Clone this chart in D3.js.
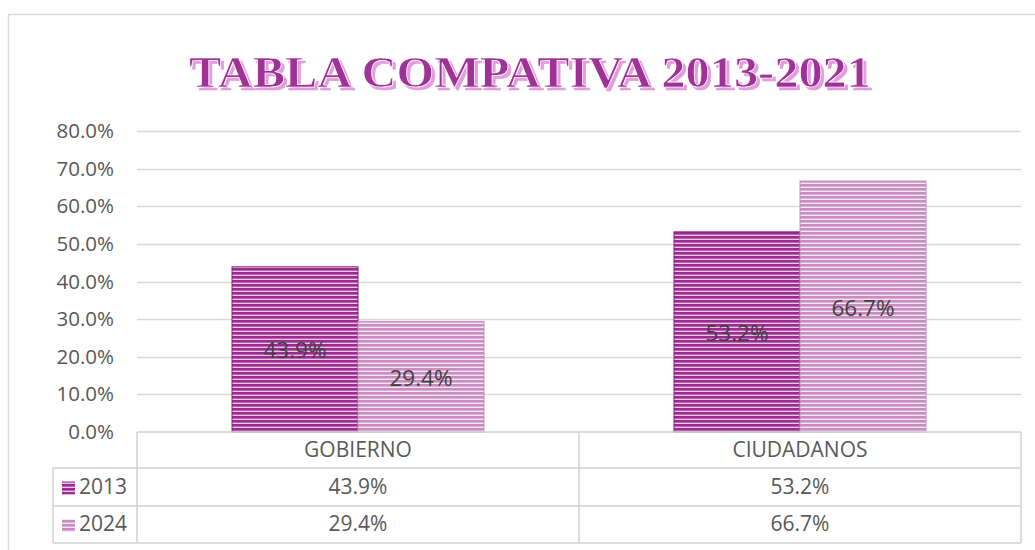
<!DOCTYPE html>
<html>
<head>
<meta charset="utf-8">
<script src="https://cdn.jsdelivr.net/npm/d3@7"></script>
<style>
  body { margin: 0; background: #fff; }
  svg { display: block; font-family: "Open Sans", "Noto Sans", sans-serif; }
</style>
</head>
<body>
<svg id="chart" width="1035" height="550"></svg>
<script>
// chart data
var categories = ["GOBIERNO", "CIUDADANOS"];
var seriesNames = ["2013", "2024"];
var values2013 = [0.439, 0.532];
var values2024 = [0.294, 0.667];
var yTicks = [0, 0.1, 0.2, 0.3, 0.4, 0.5, 0.6, 0.7, 0.8];
var titleText = "TABLA COMPATIVA 2013-2021";

var seriesValues = [values2013, values2024];
var fmt = d3.format(".1%");

var svg = d3.select("#chart");

var plotLeft = 137, plotRight = 1021;
var plotTop = 131, plotBottom = 432;
var rowH = [36, 38, 37];   // header, 2013, 2024
var legendLeft = 53;
var axisFont = 20.5, tableFont = 21, labelFont = 22.5;

// Striped fills, like Excel's narrow horizontal pattern
var defs = svg.append("defs");
var stripes = [
  { id: "pat2013", dark: "#9b2b8f", light: "#e7c4e2" },
  { id: "pat2024", dark: "#c98cc1", light: "#f6e6f3" }
];
stripes.forEach(s => {
  var p = defs.append("pattern")
    .attr("id", s.id)
    .attr("patternUnits", "userSpaceOnUse")
    .attr("width", 6).attr("height", 4);
  p.append("rect").attr("width", 6).attr("height", 4).attr("fill", s.light);
  p.append("rect").attr("width", 6).attr("height", 2.6).attr("fill", s.dark);
});

// pink shadow behind the title
var shadow = defs.append("filter").attr("id", "titleShadow")
  .attr("x", "-5%").attr("y", "-20%").attr("width", "110%").attr("height", "150%");
shadow.append("feDropShadow")
  .attr("dx", 3).attr("dy", 3).attr("stdDeviation", 0)
  .attr("flood-color", "#e39ddc").attr("flood-opacity", 1);

// outer chart border
svg.append("rect")
  .attr("x", 8.5).attr("y", 14.5)
  .attr("width", 1040).attr("height", 560)
  .attr("fill", "none")
  .attr("stroke", "#d9d9d9")
  .attr("stroke-width", 1.5);

// title
svg.append("text")
  .attr("x", 530).attr("y", 87)
  .attr("text-anchor", "middle")
  .attr("textLength", 682).attr("lengthAdjust", "spacingAndGlyphs")
  .attr("font-family", "'Liberation Serif', 'DejaVu Serif', serif")
  .attr("font-weight", "bold")
  .attr("font-size", 45)
  .attr("fill", "#9e3096")
  .attr("stroke", "#ffffff")
  .attr("stroke-width", 0.7)
  .attr("filter", "url(#titleShadow)")
  .text(titleText);

// scales
var x0 = d3.scaleBand().domain(categories).range([plotLeft, plotRight]).padding(0);
var x1 = d3.scaleBand().domain(seriesNames).range([0, x0.bandwidth()])
  .paddingInner(0).paddingOuter(0.754);
var y = d3.scaleLinear().domain([0, 0.8]).range([plotBottom, plotTop]);

// gridlines
svg.append("g")
  .selectAll("line")
  .data(yTicks.filter(t => t > 0))
  .join("line")
  .attr("x1", plotLeft).attr("x2", plotRight)
  .attr("y1", d => Math.round(y(d)) + 0.5)
  .attr("y2", d => Math.round(y(d)) + 0.5)
  .attr("stroke", "#d9d9d9")
  .attr("stroke-width", 1.3);

// y axis labels
var yAxis = d3.axisLeft(y).tickValues(yTicks).tickFormat(fmt).tickSize(0).tickPadding(0);
var yg = svg.append("g").attr("transform", "translate(114,0)").call(yAxis);
yg.select(".domain").remove();
yg.selectAll("text")
  .attr("font-size", axisFont)
  .attr("fill", "#595959")
  .attr("font-family", "'Open Sans', sans-serif");

// bars
var barData = [];
categories.forEach((c, i) => {
  seriesNames.forEach((s, j) => {
    barData.push({ cat: c, series: s, value: seriesValues[j][i], idx: j });
  });
});

var bars = svg.append("g");
bars.selectAll("rect")
  .data(barData)
  .join("rect")
  .attr("x", d => x0(d.cat) + x1(d.series))
  .attr("y", d => y(d.value))
  .attr("width", x1.bandwidth())
  .attr("height", d => y(0) - y(d.value))
  .attr("fill", d => "url(#" + stripes[d.idx].id + ")")
  .attr("stroke", d => d.idx === 0 ? "#8a1f7e" : "#c790bf")
  .attr("stroke-width", 1);

bars.selectAll("text")
  .data(barData)
  .join("text")
  .attr("x", d => x0(d.cat) + x1(d.series) + x1.bandwidth() / 2)
  .attr("y", d => (y(d.value) + y(0)) / 2 + 3)
  .attr("text-anchor", "middle")
  .attr("dominant-baseline", "middle")
  .attr("font-size", labelFont)
  .attr("fill", "#404040")
  .text(d => fmt(d.value));

// data table under the plot
var rowY = [plotBottom];
rowH.forEach(h => rowY.push(rowY[rowY.length - 1] + h));
var tbl = svg.append("g")
  .attr("stroke", "#d0d0d0")
  .attr("stroke-width", 1.5)
  .attr("fill", "none");

// horizontal lines
tbl.append("line").attr("x1", plotLeft).attr("x2", plotRight).attr("y1", rowY[0]).attr("y2", rowY[0]);
[1, 2, 3].forEach(r => {
  tbl.append("line").attr("x1", legendLeft).attr("x2", plotRight).attr("y1", rowY[r]).attr("y2", rowY[r]);
});
// vertical lines
tbl.append("line").attr("x1", legendLeft).attr("x2", legendLeft).attr("y1", rowY[1]).attr("y2", rowY[3]);
tbl.selectAll(".vcol")
  .data(categories.concat(["end"]))
  .join("line")
  .attr("class", "vcol")
  .attr("x1", d => d === "end" ? plotRight : x0(d))
  .attr("x2", d => d === "end" ? plotRight : x0(d))
  .attr("y1", rowY[0]).attr("y2", rowY[3]);

// header categories
svg.append("g").selectAll("text")
  .data(categories)
  .join("text")
  .attr("x", d => x0(d) + x0.bandwidth() / 2)
  .attr("y", (rowY[0] + rowY[1]) / 2 + 1)
  .attr("text-anchor", "middle")
  .attr("dominant-baseline", "middle")
  .attr("font-size", tableFont)
  .attr("fill", "#595959")
  .text(d => d);

// value rows with legend keys
seriesNames.forEach((s, j) => {
  var cy = (rowY[j + 1] + rowY[j + 2]) / 2 + 1;
  var g = svg.append("g");
  g.append("rect")
    .attr("x", 62).attr("y", cy - 6.5)
    .attr("width", 13).attr("height", 13)
    .attr("fill", "url(#" + stripes[j].id + ")");
  g.append("text")
    .attr("x", 79).attr("y", cy)
    .attr("dominant-baseline", "middle")
    .attr("font-size", tableFont)
    .attr("fill", "#595959")
    .text(s);
  g.selectAll(".val")
    .data(categories)
    .join("text")
    .attr("class", "val")
    .attr("x", d => x0(d) + x0.bandwidth() / 2)
    .attr("y", cy)
    .attr("text-anchor", "middle")
    .attr("dominant-baseline", "middle")
    .attr("font-size", tableFont)
    .attr("fill", "#595959")
    .text((d, i) => fmt(seriesValues[j][i]));
});
</script>
</body>
</html>
